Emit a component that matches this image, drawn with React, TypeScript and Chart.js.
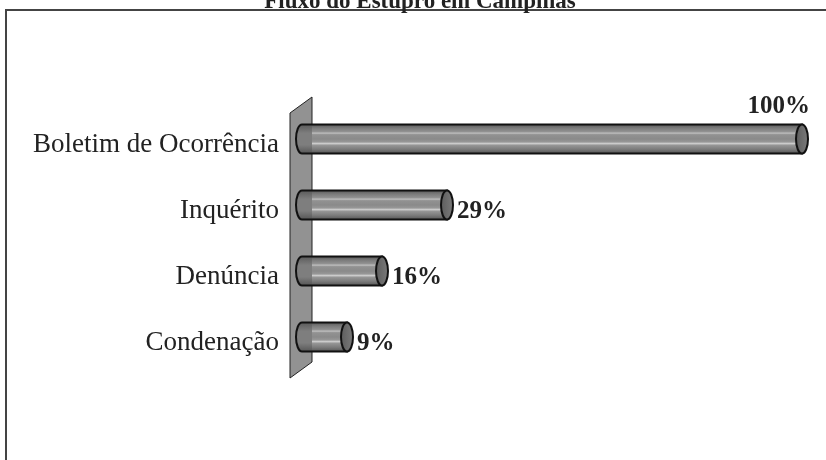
import React, { useEffect, useRef } from "react";
import { Chart, registerables } from "chart.js";

Chart.register(...registerables);

const TITLE = "Fluxo do Estupro em Campinas";
const CATEGORIES = ["Boletim de Ocorrência", "Inquérito", "Denúncia", "Condenação"];
const VALUES = [100, 29, 16, 9];
const VALUE_LABELS = ["100%", "29%", "16%", "9%"];

const SERIF = '"Liberation Serif", "Times New Roman", serif';

function bodyGradient(ctx: CanvasRenderingContext2D, top: number, bottom: number) {
  const g = ctx.createLinearGradient(0, top, 0, bottom);
  g.addColorStop(0, "#5a5a5a");
  g.addColorStop(0.12, "#7a7a7a");
  g.addColorStop(0.24, "#909090");
  g.addColorStop(0.3, "#bdbdbd");
  g.addColorStop(0.35, "#929292");
  g.addColorStop(0.5, "#8a8a8a");
  g.addColorStop(0.6, "#979797");
  g.addColorStop(0.66, "#d0d0d0");
  g.addColorStop(0.71, "#979797");
  g.addColorStop(0.86, "#7a7a7a");
  g.addColorStop(1, "#565656");
  return g;
}

const decorPlugin = {
  id: "decor",
  beforeDatasetsDraw(chart: any) {
    const ctx = chart.ctx as CanvasRenderingContext2D;
    const { top, bottom } = chart.chartArea;
    const z = chart.scales.x.getPixelForValue(0);
    ctx.save();
    ctx.beginPath();
    ctx.moveTo(z - 12, top + 7);
    ctx.lineTo(z + 10, top - 9);
    ctx.lineTo(z + 10, bottom - 8);
    ctx.lineTo(z - 12, bottom + 8);
    ctx.closePath();
    ctx.fillStyle = "#929292";
    ctx.fill();
    ctx.lineWidth = 1;
    ctx.strokeStyle = "#222";
    ctx.stroke();
    ctx.restore();
  },
  afterDatasetsDraw(chart: any) {
    const ctx = chart.ctx as CanvasRenderingContext2D;
    const meta = chart.getDatasetMeta(0);
    const z = chart.scales.x.getPixelForValue(0);
    const rx = 6;
    meta.data.forEach((bar: any, i: number) => {
      const x1 = bar.x;
      const x0 = bar.base;
      const cy = bar.y;
      const h = bar.height;
      const t = cy - h / 2;
      const b = cy + h / 2;
      const ry = h / 2;
      ctx.save();
      // body
      ctx.beginPath();
      ctx.moveTo(x1, t);
      ctx.lineTo(x0, t);
      ctx.ellipse(x0, cy, rx, ry, 0, -Math.PI / 2, Math.PI / 2, true);
      ctx.lineTo(x1, b);
      ctx.closePath();
      ctx.fillStyle = bodyGradient(ctx, t, b);
      ctx.fill();
      // darker, plain part in front of the wall
      ctx.save();
      ctx.clip();
      const g2 = ctx.createLinearGradient(0, t, 0, b);
      g2.addColorStop(0, "#5a5a5a");
      g2.addColorStop(0.3, "#7e7e7e");
      g2.addColorStop(0.7, "#7e7e7e");
      g2.addColorStop(1, "#565656");
      ctx.fillStyle = g2;
      ctx.fillRect(x0 - rx - 2, t - 2, z + 10 - (x0 - rx - 2), h + 4);
      ctx.restore();
      ctx.lineWidth = 2;
      ctx.strokeStyle = "#111";
      ctx.stroke();
      // right cap
      ctx.beginPath();
      ctx.ellipse(x1, cy, rx, ry, 0, 0, Math.PI * 2);
      const g3 = ctx.createLinearGradient(x1 - rx, 0, x1 + rx, 0);
      g3.addColorStop(0, "#5e5e5e");
      g3.addColorStop(1, "#7a7a7a");
      ctx.fillStyle = g3;
      ctx.fill();
      ctx.lineWidth = 2;
      ctx.strokeStyle = "#111";
      ctx.stroke();
      // value label
      ctx.fillStyle = "#222";
      ctx.font = `bold 25px ${SERIF}`;
      ctx.textBaseline = "alphabetic";
      if (i === 0) {
        ctx.textAlign = "right";
        ctx.fillText(VALUE_LABELS[i], x1 + rx + 2, t - 12);
      } else {
        ctx.textAlign = "left";
        ctx.fillText(VALUE_LABELS[i], x1 + rx + 4, cy + 13);
      }
      ctx.restore();
    });
  },
  afterDraw(chart: any) {
    const ctx = chart.ctx as CanvasRenderingContext2D;
    ctx.save();
    ctx.strokeStyle = "#444";
    ctx.lineWidth = 2;
    ctx.strokeRect(6, 10, 900, 600);
    ctx.fillStyle = "#222";
    ctx.font = `bold 23px ${SERIF}`;
    ctx.textAlign = "center";
    ctx.textBaseline = "alphabetic";
    ctx.fillText(TITLE, 420, 8);
    ctx.restore();
  },
};

export default function App() {
  const ref = useRef<HTMLCanvasElement | null>(null);
  useEffect(() => {
    if (!ref.current) return;
    const chart = new Chart(ref.current, {
      type: "bar",
      data: {
        labels: CATEGORIES,
        datasets: [
          {
            data: VALUES,
            backgroundColor: "rgba(0,0,0,0)",
            borderWidth: 0,
            barThickness: 29,
          },
        ],
      },
      options: {
        indexAxis: "y",
        animation: false,
        responsive: false,
        devicePixelRatio: 1,
        layout: { padding: { left: 0, right: 24, top: 106, bottom: 90 } },
        plugins: { legend: { display: false }, tooltip: { enabled: false }, title: { display: false } },
        scales: {
          x: { display: false, min: 0, max: 100 },
          y: {
            grid: { display: false },
            border: { display: false },
            ticks: {
              padding: 15,
              labelOffset: 6,
              color: "#222",
              font: { family: SERIF, size: 27 },
              autoSkip: false,
            },
            afterFit: (scale: any) => {
              scale.width = 302;
            },
          },
        },
      },
      plugins: [decorPlugin],
    } as any);
    return () => chart.destroy();
  }, []);
  return (
    <canvas
      ref={ref}
      width={826}
      height={460}
      style={{ position: "fixed", left: 0, top: 0, width: 826, height: 460, background: "#fff" }}
    />
  );
}
